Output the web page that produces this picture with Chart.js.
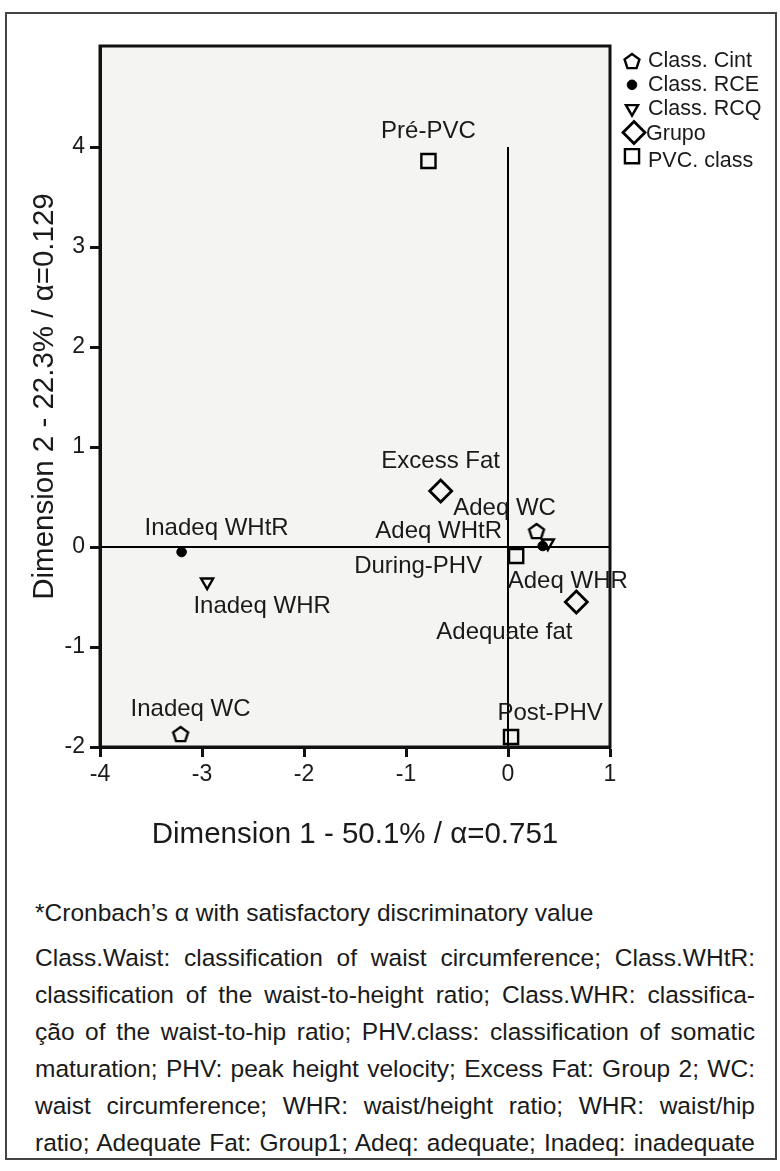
<!DOCTYPE html>
<html>
<head>
<meta charset="utf-8">
<script src="https://cdn.jsdelivr.net/npm/chart.js@4.4.1/dist/chart.umd.min.js"></script>
<style>
  body { margin: 0; background: #fff; }
  #frame { position: absolute; left: 5px; top: 12px; width: 772px; height: 1148px; border: 2px solid #444; box-sizing: border-box; }
  #wrap { position: absolute; left: 0; top: 0; width: 780px; height: 880px; }
  #notes { position: absolute; left: 35px; top: 894px; width: 720px; font-family: "Liberation Sans", Arial, sans-serif; font-size: 24.5px; color: #1a1a1a; }
  #notes div { line-height: 37px; white-space: nowrap; }
  #notes .j { text-align: justify; text-align-last: justify; white-space: normal; }
  #notes .first { margin-bottom: 8px; }
</style>
</head>
<body>
<div id="frame"></div>
<div id="wrap"><canvas id="chart"></canvas></div>
<div id="notes"></div>
<script>
// series names (legend order)
const seriesNames = ['Class. Cint', 'Class. RCE', 'Class. RCQ', 'Grupo', 'PVC. class'];

// category points per series
const cintLabels = ['Inadeq WC', 'Adeq WC'];
const cintX = [-3.21, 0.28];
const cintY = [-1.87, 0.16];

const rceLabels = ['Inadeq WHtR', 'Adeq WHtR'];
const rceX = [-3.2, 0.34];
const rceY = [-0.05, 0.01];

const rcqLabels = ['Inadeq WHR', 'Adeq WHR'];
const rcqX = [-2.95, 0.39];
const rcqY = [-0.35, 0.04];

const grupoLabels = ['Excess Fat', 'Adequate fat'];
const grupoX = [-0.66, 0.67];
const grupoY = [0.56, -0.55];

const pvcLabels = ['Pré-PVC', 'During-PHV', 'Post-PHV'];
const pvcX = [-0.78, 0.08, 0.03];
const pvcY = [3.86, -0.09, -1.90];

// reference lines through the origin
const vLineX = [0, 0];
const vLineY = [-2, 4];
const hLineX = [-4, 1];
const hLineY = [0, 0];

const xTicks = [-4, -3, -2, -1, 0, 1];
const yTicks = [-2, -1, 0, 1, 2, 3, 4];

const xTitle = 'Dimension 1 - 50.1% / α=0.751';
const yTitle = 'Dimension 2 - 22.3% / α=0.129';

const noteFirst = '*Cronbach\u2019s α with satisfactory discriminatory value';
const noteLines = [
  'Class.Waist: classification of waist circumference; Class.WHtR:',
  'classification of the waist-to-height ratio; Class.WHR: classifica-',
  'ção of the waist-to-hip ratio; PHV.class: classification of somatic',
  'maturation; PHV: peak height velocity; Excess Fat: Group 2; WC:',
  'waist circumference; WHR: waist/height ratio; WHR: waist/hip',
  'ratio; Adequate Fat: Group1; Adeq: adequate; Inadeq: inadequate'
];

// label placement relative to the marker, in pixels
const labelShift = {
  'Inadeq WC': [10, -25], 'Adeq WC': [-32, -23],
  'Inadeq WHtR': [35, -24], 'Adeq WHtR': [-104, -15],
  'Inadeq WHR': [55, 24], 'Adeq WHR': [20, 38],
  'Excess Fat': [0, -30], 'Adequate fat': [-72, 30],
  'Pré-PVC': [0, -30], 'During-PHV': [-98, 10], 'Post-PHV': [39, -24]
};

const FONT = '"Liberation Sans", Arial, sans-serif';

// notes
const notes = document.getElementById('notes');
const f = document.createElement('div');
f.className = 'first';
f.textContent = noteFirst;
notes.appendChild(f);
noteLines.forEach(t => {
  const d = document.createElement('div');
  d.className = 'j';
  d.textContent = t;
  notes.appendChild(d);
});

function pentagon() {
  const c = document.createElement('canvas');
  c.width = 20; c.height = 20;
  const g = c.getContext('2d');
  const r = 7.8;
  g.beginPath();
  for (let i = 0; i < 5; i++) {
    const a = -Math.PI / 2 + i * 2 * Math.PI / 5;
    const px = 10 + r * Math.cos(a), py = 10.8 + r * Math.sin(a);
    if (i) g.lineTo(px, py); else g.moveTo(px, py);
  }
  g.closePath();
  g.lineWidth = 2.4;
  g.strokeStyle = '#000';
  g.stroke();
  return c;
}
const pent = pentagon();

function pts(xs, ys) { return xs.map((x, i) => ({x: x, y: ys[i]})); }

const markerBase = {
  type: 'scatter', borderColor: '#000', backgroundColor: 'rgba(0,0,0,0)', pointBorderWidth: 2.4
};

const datasets = [
  Object.assign({}, markerBase, {label: seriesNames[0], data: pts(cintX, cintY), labels: cintLabels,
    pointStyle: pent, pointRadius: 8}),
  Object.assign({}, markerBase, {label: seriesNames[1], data: pts(rceX, rceY), labels: rceLabels,
    pointStyle: 'circle', pointRadius: 4.8, backgroundColor: '#000', pointBorderWidth: 1}),
  Object.assign({}, markerBase, {label: seriesNames[2], data: pts(rcqX, rcqY), labels: rcqLabels,
    pointStyle: 'triangle', pointRotation: 180, pointRadius: 7}),
  Object.assign({}, markerBase, {label: seriesNames[3], data: pts(grupoX, grupoY), labels: grupoLabels,
    pointStyle: 'rectRot', pointRadius: 11, pointBorderWidth: 2.8}),
  Object.assign({}, markerBase, {label: seriesNames[4], data: pts(pvcX, pvcY), labels: pvcLabels,
    pointStyle: 'rect', pointRadius: 10}),
  {type: 'scatter', ref: true, data: pts(vLineX, vLineY), showLine: true, pointRadius: 0,
    borderColor: '#000', borderWidth: 2},
  {type: 'scatter', ref: true, data: pts(hLineX, hLineY), showLine: true, pointRadius: 0,
    borderColor: '#000', borderWidth: 2}
];

const plotBox = {
  id: 'plotBox',
  beforeDraw(chart) {
    const {ctx, chartArea: a} = chart;
    ctx.save();
    ctx.fillStyle = '#f4f4f3';
    ctx.fillRect(a.left, a.top, a.right - a.left, a.bottom - a.top);
    ctx.restore();
  },
  afterDraw(chart) {
    const {ctx, chartArea: a} = chart;
    ctx.save();
    ctx.strokeStyle = '#111';
    ctx.lineWidth = 3;
    ctx.strokeRect(a.left, a.top, a.right - a.left, a.bottom - a.top);
    ctx.restore();
  }
};

const pointLabels = {
  id: 'pointLabels',
  afterDatasetsDraw(chart) {
    const ctx = chart.ctx;
    ctx.save();
    ctx.font = '24px ' + FONT;
    ctx.fillStyle = '#1a1a1a';
    ctx.textAlign = 'center';
    ctx.textBaseline = 'middle';
    chart.data.datasets.forEach((ds, i) => {
      if (!ds.labels) return;
      chart.getDatasetMeta(i).data.forEach((el, j) => {
        const name = ds.labels[j];
        const s = labelShift[name] || [0, -20];
        ctx.fillText(name, el.x + s[0], el.y + s[1]);
      });
    });
    ctx.restore();
  }
};

const sideLegend = {
  id: 'sideLegend',
  afterDraw(chart) {
    const ctx = chart.ctx;
    const x0 = 632, y0 = 61, step = 23.8;
    ctx.save();
    ctx.font = '21.5px ' + FONT;
    ctx.textBaseline = 'middle';
    let row = 0;
    chart.data.datasets.forEach(ds => {
      if (ds.ref) return;
      const y = y0 + row * step;
      const big = ds.pointStyle === 'rectRot';
      ctx.fillStyle = ds.backgroundColor;
      ctx.strokeStyle = '#000';
      ctx.lineWidth = ds.pointBorderWidth;
      Chart.helpers.drawPoint(ctx, {
        pointStyle: ds.pointStyle, radius: ds.pointRadius, rotation: ds.pointRotation || 0,
        borderWidth: ds.pointBorderWidth
      }, x0 + (big ? 2 : 0), y);
      ctx.fillStyle = '#1a1a1a';
      ctx.fillText(ds.label, big ? 646 : 648, y + (ds.pointStyle === 'rect' ? 5 : (big ? 2 : 0)));
      row++;
    });
    ctx.restore();
  }
};

new Chart(document.getElementById('chart'), {
  type: 'scatter',
  data: {datasets: datasets},
  options: {
    responsive: true,
    maintainAspectRatio: false,
    animation: false,
    layout: {padding: {top: 46, right: 170, bottom: 0, left: 10}},
    plugins: {legend: {display: false}, tooltip: {enabled: false}},
    scales: {
      x: {
        min: -4, max: 1,
        afterBuildTicks: axis => { axis.ticks = xTicks.map(v => ({value: v})); },
        afterFit: scale => { scale.height = 133; },
        grid: {drawOnChartArea: false, drawTicks: true, tickLength: 10, tickWidth: 3, tickColor: '#111'},
        border: {display: true, color: '#111', width: 3},
        ticks: {color: '#1a1a1a', font: {family: FONT, size: 23}, padding: 4, maxRotation: 0},
        title: {display: true, text: xTitle, color: '#1a1a1a', font: {family: FONT, size: 29.5}, padding: {bottom: 27}}
      },
      y: {
        min: -2, max: 5.01,
        afterBuildTicks: axis => { axis.ticks = yTicks.map(v => ({value: v})); },
        afterFit: scale => { scale.width = 90; },
        grid: {drawOnChartArea: false, drawTicks: true, tickLength: 10, tickWidth: 3, tickColor: '#111'},
        border: {display: true, color: '#111', width: 3},
        ticks: {color: '#1a1a1a', font: {family: FONT, size: 23}, padding: 5},
        title: {display: true, text: yTitle, color: '#1a1a1a', font: {family: FONT, size: 29.5}, padding: {top: 17}}
      }
    }
  },
  plugins: [plotBox, pointLabels, sideLegend]
});
</script>
</body>
</html>
